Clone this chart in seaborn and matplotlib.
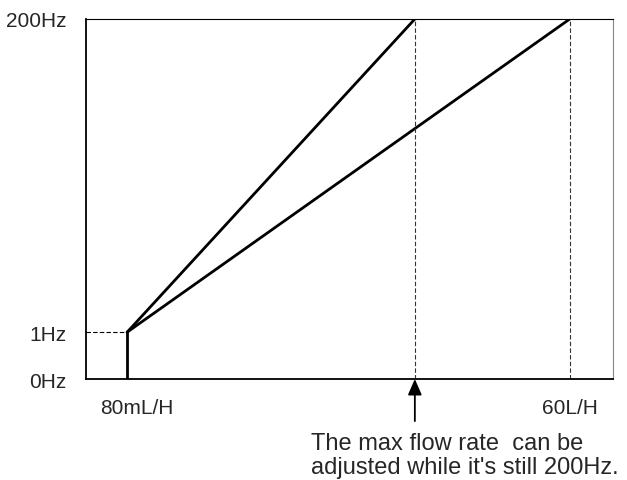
import matplotlib
matplotlib.use("Agg")
import matplotlib.pyplot as plt
import seaborn as sns
import pandas as pd

# Data (positions on a nominal 0-100 scale; y is a non-linear Hz scale)
ytick_pos = [0, 13, 100]
ytick_labels = ["0Hz", "1Hz", "200Hz"]
x_min_flow = 7.8          # 80mL/H
x_end_lines = [62.4, 91.8]  # ends of the two ramps (200Hz)
xtick_labels = ["80mL/H", "60L/H"]
y_min = 13   # 1Hz
y_max = 100  # 200Hz
note = "The max flow rate  can be\nadjusted while it's still 200Hz."

sns.set_theme(style="white")
plt.rcParams['font.family'] = ['Liberation Sans', 'DejaVu Sans']

rows = []
for i, xe in enumerate(x_end_lines):
    rows.append({"line": i, "x": x_min_flow, "y": y_min})
    rows.append({"line": i, "x": xe, "y": y_max})
df = pd.DataFrame(rows)

fig = plt.figure(figsize=(6.27, 4.81), dpi=100)
ax = fig.add_axes([86/627, 1-380/481, (613-86)/627, 360/481])

sns.lineplot(data=df, x="x", y="y", units="line", estimator=None,
             color="black", lw=2.0, ax=ax, legend=False)
# vertical start line at minimum flow
ax.plot([x_min_flow, x_min_flow], [0, y_min], color="black", lw=2.0, solid_capstyle="butt")
# 1Hz dashed guide
ax.plot([0, x_min_flow], [y_min, y_min], color="black", lw=0.8, ls=(0, (4, 2)))
# vertical dashed guides at line ends
for xe in x_end_lines:
    ax.plot([xe, xe], [0, y_max], color="#333333", lw=0.8, ls=(0, (4, 2)))

ax.set_xlim(0, 100)
ax.set_ylim(0, 100)
ax.set_xlabel("")
ax.set_ylabel("")
ax.set_yticks(ytick_pos)
ax.set_yticklabels(ytick_labels, fontsize=15)
ax.tick_params(axis="y", length=0, pad=14)
ax.set_xticks([])

for s in ["left", "bottom"]:
    ax.spines[s].set_color("black")
    ax.spines[s].set_linewidth(1.3)
ax.spines["top"].set_color("black")
ax.spines["top"].set_linewidth(0.8)
ax.spines["top"].set_linestyle((0, (1, 1)))
ax.spines["right"].set_color("#888888")
ax.spines["right"].set_linewidth(0.8)
ax.spines["right"].set_linestyle((0, (1, 1)))

# x labels
ax.text(x_min_flow + 1.9, -7.8, xtick_labels[0], ha="center", va="center", fontsize=15)
ax.text(x_end_lines[1], -8, xtick_labels[1], ha="center", va="center", fontsize=15)

# arrow
ax.annotate("", xy=(x_end_lines[0], 0), xytext=(x_end_lines[0], -11.7),
            arrowprops=dict(arrowstyle="-|>,head_length=0.8,head_width=0.35",
                            color="black", lw=1.3, shrinkA=0, shrinkB=0),
            annotation_clip=False)
fig.text(311/627, 1-456/481, note, ha="left", va="center", fontsize=17, linespacing=1.08)

fig.savefig("out.png", dpi=100)
